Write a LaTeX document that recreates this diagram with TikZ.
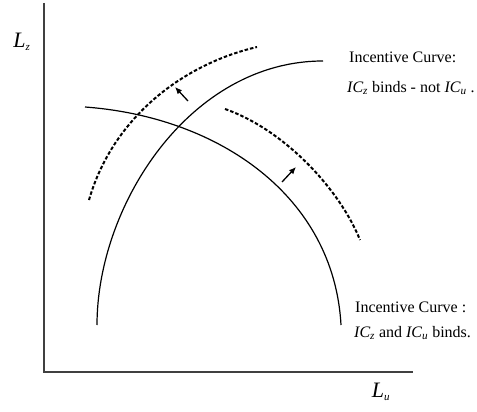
\documentclass[tikz,border=0pt]{standalone}
\usepackage{fontspec}
\setmainfont{Liberation Serif}
\usetikzlibrary{arrows.meta}
\newcommand{\ICsub}[1]{{\itshape IC}\textsubscript{\itshape #1}}
\tikzset{
  axisline/.style={line width=1.6pt, draw=black!75},
  solidcurve/.style={line width=1.2pt, black},
  dashcurve/.style={line width=2pt, black, dash pattern=on 3.5pt off 2pt},
  shiftarrow/.style={line width=1.3pt, black, -{Latex[length=7pt,width=6pt]}},
  lbl/.style={inner sep=0pt, anchor=west, font=\fontsize{16}{16}\selectfont},
  axlbl/.style={inner sep=0pt, font=\fontsize{22}{22}\selectfont\itshape}
}
\begin{document}
\begin{tikzpicture}[x=1pt,y=-1pt]
\useasboundingbox (0,0) rectangle (477,412);
% axes
\coordinate (top) at (44,3);
\coordinate (origin) at (44,372);
\coordinate (right) at (413,372);
\draw[axisline] (top) -- (origin) -- (right);
\node[axlbl] (Lz) at (22,42) {L\textsubscript{\fontsize{11}{11}\selectfont z}};
\node[axlbl] (Lu) at (381,392) {L\textsubscript{\fontsize{11}{11}\selectfont u}};
% curve end points
\coordinate (A0) at (97,325);
\coordinate (A1) at (323,61);
\coordinate (B0) at (85,107);
\coordinate (B1) at (341,325);
\coordinate (C0) at (89,200);
\coordinate (C1) at (257,47);
\coordinate (D0) at (225,109);
\coordinate (D1) at (360,240);
% rising solid curve
\draw[solidcurve] (A0) .. controls (97,205) and (190,61) .. (A1);
% descending solid curve
\draw[solidcurve] (B0) .. controls (220,117) and (334,197) .. (B1);
% dashed curves
\draw[dashcurve] (C0) .. controls (112,120) and (180,65) .. (C1);
\draw[dashcurve] (D0) .. controls (285,130) and (340,190) .. (D1);
% arrows
\coordinate (a1s) at (188,101);
\coordinate (a1e) at (175,87);
\coordinate (a2s) at (282,182);
\coordinate (a2e) at (296,167);
\draw[shiftarrow] (a1s) -- (a1e);
\draw[shiftarrow] (a2s) -- (a2e);
% labels
\node[lbl] (t1) at (349,57) {Incentive Curve:};
\node[lbl] (t2) at (347,88) {\ICsub{z} binds - not \ICsub{u} .};
\node[lbl] (b1) at (355,307) {Incentive Curve :};
\node[lbl] (b2) at (354,333) {\ICsub{z} and \ICsub{u} binds.};
\end{tikzpicture}
\end{document}
